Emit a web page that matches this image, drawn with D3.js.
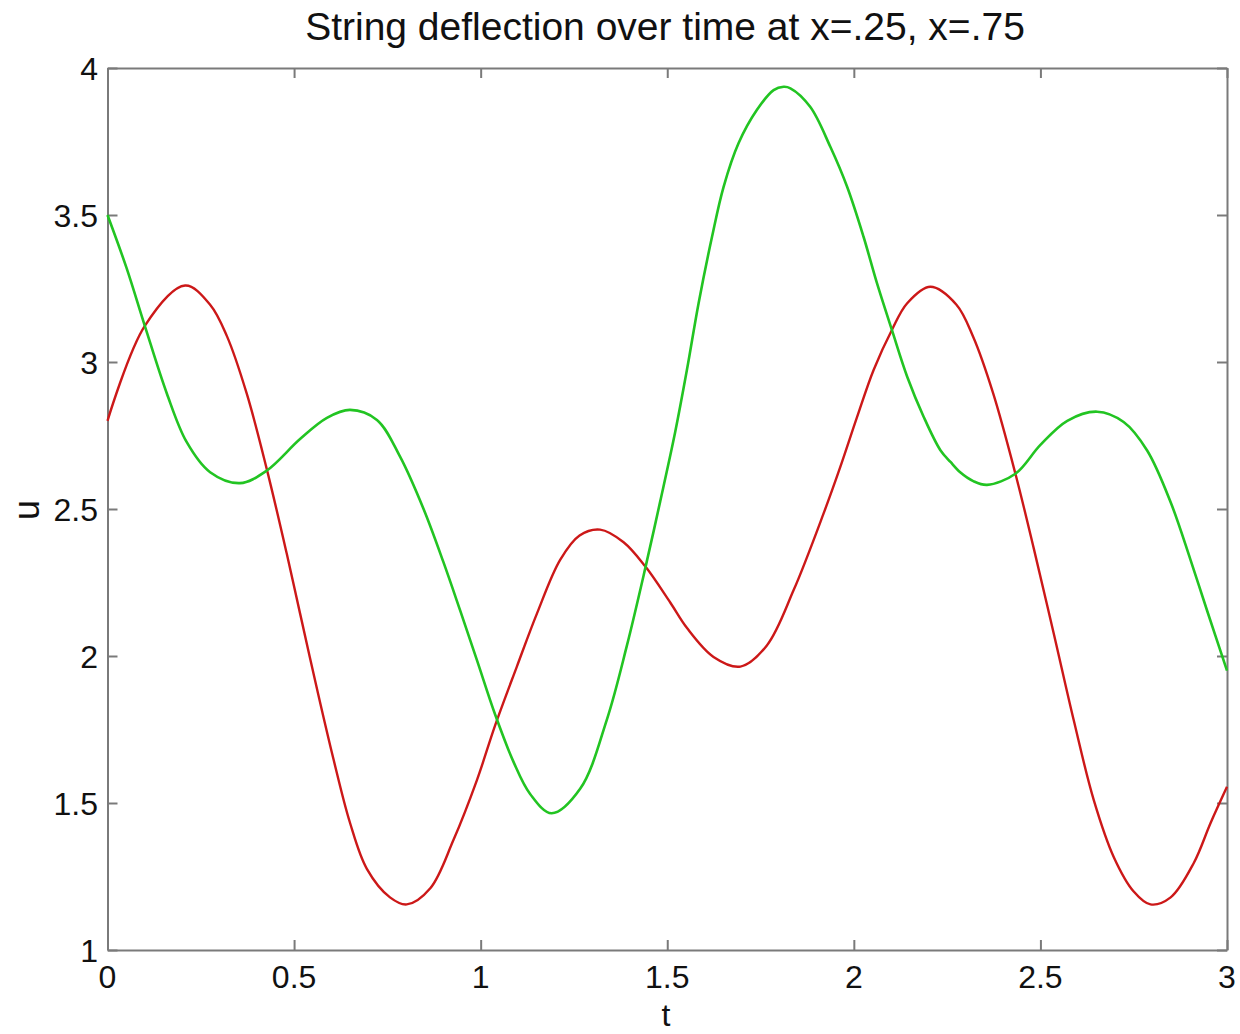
<!DOCTYPE html>
<html>
<head>
<meta charset="utf-8">
<script src="https://cdn.jsdelivr.net/npm/d3@7"></script>
<style>
  html, body { margin: 0; padding: 0; background: #fff; }
  svg { display: block; font-family: "Liberation Sans", Arial, Helvetica, sans-serif; }
</style>
</head>
<body>
<svg id="chart" width="1240" height="1034"></svg>
<script>
// Deflection samples u(t) at x = .25 (red) and x = .75 (green)
const tRed = [0, 0.1, 0.208, 0.275, 0.32, 0.373, 0.426, 0.48, 0.516, 0.561, 0.605, 0.65, 0.695, 0.757,
  0.802, 0.865, 0.927, 0.99, 1.039, 1.097, 1.151, 1.213, 1.265, 1.32, 1.383, 1.441, 1.508, 1.553, 1.624,
  1.696, 1.767, 1.839, 1.919, 1.964, 2.009, 2.053, 2.102, 2.143, 2.205, 2.275, 2.32, 2.373,
  2.433, 2.482, 2.536, 2.589, 2.643, 2.697, 2.75, 2.795, 2.849, 2.911, 2.956, 3.0];
const uRed = [2.80, 3.123, 3.26, 3.195, 3.088, 2.893, 2.64, 2.35, 2.145, 1.89, 1.652, 1.432, 1.276, 1.179,
  1.155, 1.21, 1.374, 1.578, 1.765, 1.964, 2.145, 2.327, 2.41, 2.43, 2.387, 2.305, 2.182, 2.095, 1.997,
  1.964, 2.036, 2.225, 2.485, 2.644, 2.814, 2.973, 3.109, 3.20, 3.256, 3.195, 3.085, 2.895,
  2.62, 2.367, 2.075, 1.783, 1.51, 1.315, 1.199, 1.155, 1.179, 1.296, 1.432, 1.555];

const tGreen = [0, 0.051, 0.1, 0.159, 0.212, 0.275, 0.355, 0.426, 0.516, 0.588, 0.65, 0.722, 0.784, 0.847,
  0.90, 0.945, 0.99, 1.039, 1.088, 1.133, 1.19, 1.267, 1.338, 1.392, 1.441, 1.481, 1.521, 1.553, 1.584,
  1.62, 1.651, 1.691, 1.74, 1.785, 1.812, 1.83, 1.883, 1.937, 1.982, 2.026, 2.062, 2.102, 2.143, 2.187,
  2.232, 2.259, 2.285, 2.32, 2.357, 2.433, 2.5, 2.572, 2.652, 2.723, 2.786, 2.849, 2.902, 2.947, 3.0];
const uGreen = [3.50, 3.32, 3.123, 2.893, 2.728, 2.625, 2.588, 2.63, 2.738, 2.81, 2.837, 2.803, 2.678, 2.50,
  2.32, 2.155, 1.986, 1.80, 1.64, 1.53, 1.465, 1.549, 1.783, 2.036, 2.298, 2.525, 2.76, 2.975, 3.20,
  3.426, 3.596, 3.744, 3.857, 3.925, 3.936, 3.931, 3.868, 3.732, 3.596, 3.426, 3.268, 3.109, 2.95, 2.814,
  2.70, 2.66, 2.625, 2.595, 2.582, 2.62, 2.718, 2.80, 2.831, 2.796, 2.699, 2.523, 2.328, 2.153, 1.95];

const xTicks = [0, 0.5, 1, 1.5, 2, 2.5, 3];
const xTickLabels = ["0", "0.5", "1", "1.5", "2", "2.5", "3"];
const yTicks = [1, 1.5, 2, 2.5, 3, 3.5, 4];
const yTickLabels = ["1", "1.5", "2", "2.5", "3", "3.5", "4"];

const titleText = "String deflection over time at x=.25, x=.75";
const xLabel = "t";
const yLabel = "u";

const plot = { left: 107.5, right: 1227, top: 68, bottom: 950 };
const svg = d3.select("#chart");

const x = d3.scaleLinear().domain([0, 3]).range([plot.left, plot.right]);
const y = d3.scaleLinear().domain([1, 4]).range([plot.bottom, plot.top]);

const axisColor = "#7a7a7a";
const tickLen = 10;
const tickFont = "32px";

// Box axes with inward ticks on all four sides
const gBottom = svg.append("g").attr("transform", `translate(0,${plot.bottom})`)
  .call(d3.axisBottom(x).tickValues(xTicks).tickSizeInner(-tickLen).tickSizeOuter(0).tickFormat(""));
const gTop = svg.append("g").attr("transform", `translate(0,${plot.top})`)
  .call(d3.axisTop(x).tickValues(xTicks).tickSizeInner(-tickLen).tickSizeOuter(0).tickFormat(""));
const gLeft = svg.append("g").attr("transform", `translate(${plot.left},0)`)
  .call(d3.axisLeft(y).tickValues(yTicks).tickSizeInner(-tickLen).tickSizeOuter(0).tickFormat(""));
const gRight = svg.append("g").attr("transform", `translate(${plot.right},0)`)
  .call(d3.axisRight(y).tickValues(yTicks).tickSizeInner(-tickLen).tickSizeOuter(0).tickFormat(""));

[gBottom, gTop, gLeft, gRight].forEach(g => {
  g.select(".domain").attr("stroke", axisColor).attr("stroke-width", 2);
  g.selectAll(".tick line").attr("stroke", axisColor).attr("stroke-width", 2);
});

// Tick labels
svg.append("g").selectAll("text")
  .data(xTicks)
  .join("text")
  .attr("x", d => x(d))
  .attr("y", 988)
  .attr("text-anchor", "middle")
  .attr("fill", "#111")
  .style("font-size", tickFont)
  .text((d, i) => xTickLabels[i]);

svg.append("g").selectAll("text")
  .data(yTicks)
  .join("text")
  .attr("x", 98)
  .attr("y", d => y(d))
  .attr("dy", "0.36em")
  .attr("text-anchor", "end")
  .attr("fill", "#111")
  .style("font-size", tickFont)
  .text((d, i) => yTickLabels[i]);

// Curves
const line = d3.line()
  .x(d => x(d[0]))
  .y(d => y(d[1]))
  .curve(d3.curveCatmullRom.alpha(0.5));

const series = [
  { t: tRed, u: uRed, color: "#cc1818", width: 2.4 },
  { t: tGreen, u: uGreen, color: "#22c422", width: 2.6 }
];

series.forEach(s => {
  svg.append("path")
    .datum(s.t.map((t, i) => [t, s.u[i]]))
    .attr("fill", "none")
    .attr("stroke", s.color)
    .attr("stroke-width", s.width)
    .attr("stroke-linejoin", "round")
    .attr("d", line);
});

// Title and axis labels
svg.append("text")
  .attr("x", 665)
  .attr("y", 40)
  .attr("text-anchor", "middle")
  .attr("fill", "#111")
  .style("font-size", "39px")
  .text(titleText);

svg.append("text")
  .attr("x", 666)
  .attr("y", 1026)
  .attr("text-anchor", "middle")
  .attr("fill", "#111")
  .style("font-size", "32px")
  .text(xLabel);

svg.append("text")
  .attr("transform", `translate(39,510) rotate(-90)`)
  .attr("text-anchor", "middle")
  .attr("fill", "#111")
  .style("font-size", "36px")
  .text(yLabel);
</script>
</body>
</html>
